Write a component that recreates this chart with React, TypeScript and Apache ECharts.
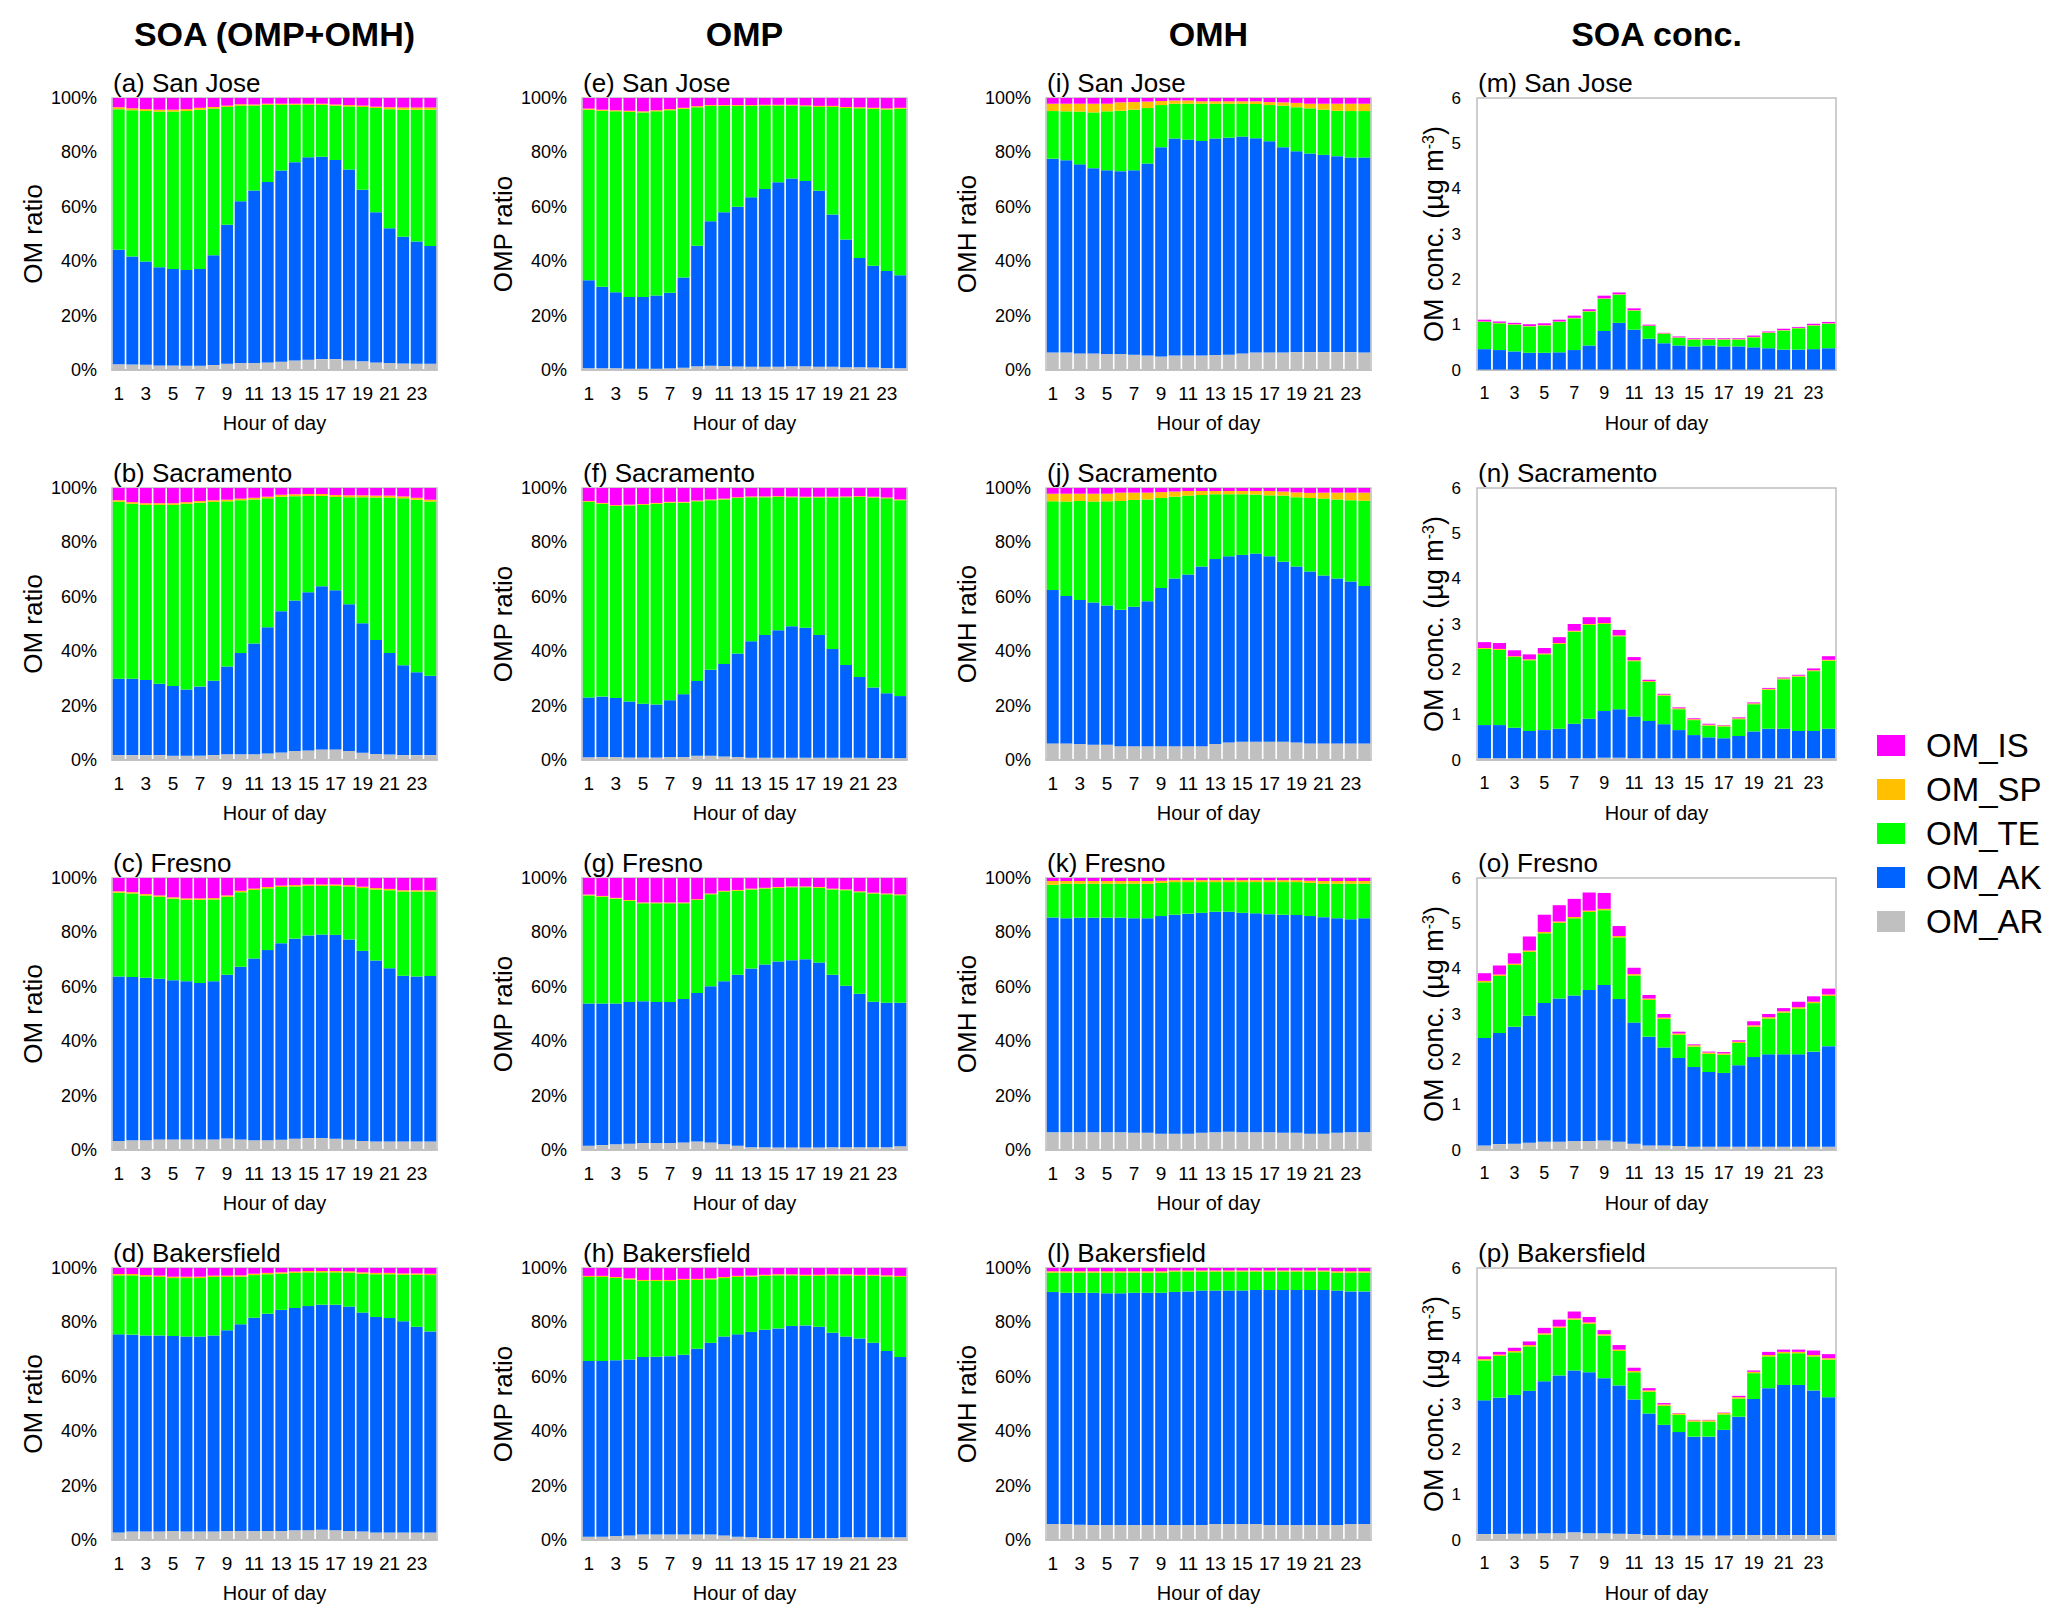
import React, { useEffect, useRef } from 'react';
import * as echarts from 'echarts';

// ---------- categories / labels ----------
const HOURS = ['1','2','3','4','5','6','7','8','9','10','11','12','13','14','15','16','17','18','19','20','21','22','23','24'];
const STACK_ORDER = ['OM_AR', 'OM_AK', 'OM_TE', 'OM_SP', 'OM_IS']; // bottom -> top
const LEGEND_ORDER = ['OM_IS', 'OM_SP', 'OM_TE', 'OM_AK', 'OM_AR'];
const COLUMN_TITLES = ['SOA (OMP+OMH)', 'OMP', 'OMH', 'SOA conc.'];
const Y_NAMES = ['OM ratio', 'OMP ratio', 'OMH ratio', 'OM conc. (µg m{sup|-3})'];
const SITES = ['San Jose', 'Sacramento', 'Fresno', 'Bakersfield'];
const LETTERS = [['a', 'e', 'i', 'm'], ['b', 'f', 'j', 'n'], ['c', 'g', 'k', 'o'], ['d', 'h', 'l', 'p']];
const RATIO_TICK_STEP = 20;
const CONC_TICK_STEP = 1;
const CONC_MAX = 6;

// ---------- (a) San Jose, SOA ratio (%) ----------
const A_AR = [2.1,2.0,1.9,1.7,1.7,1.6,1.6,1.8,2.3,2.6,2.6,2.8,3.0,3.5,3.8,4.0,4.0,3.5,3.2,2.8,2.6,2.4,2.3,2.3];
const A_AK = [42.1,39.7,38.0,36.1,35.4,35.2,35.5,40.4,51.1,59.4,63.4,66.3,70.3,72.9,74.4,74.4,73.2,70.2,63.1,55.2,49.5,46.6,44.9,43.3];
const A_TE = [51.7,53.8,55.3,57.2,57.9,58.4,58.6,53.9,43.3,35.2,31.2,28.4,24.2,21.1,19.3,19.1,20.0,23.2,30.4,38.3,43.8,46.7,48.5,50.1];
const A_SP = [0.7,0.7,0.7,0.7,0.7,0.7,0.7,0.6,0.5,0.5,0.4,0.4,0.4,0.4,0.4,0.4,0.4,0.5,0.5,0.5,0.7,0.8,0.8,0.8];
const A_IS = [3.4,3.8,4.1,4.3,4.3,4.1,3.6,3.3,2.8,2.3,2.4,2.1,2.1,2.1,2.1,2.1,2.4,2.6,2.8,3.2,3.4,3.5,3.5,3.5];
// ---------- (e) San Jose, OMP ratio ----------
const E_AR = [0.6,0.6,0.6,0.5,0.5,0.5,0.6,0.8,1.4,1.6,1.5,1.3,1.2,1.2,1.2,1.4,1.4,1.2,1.2,1.0,1.0,0.9,0.7,0.6];
const E_AK = [32.4,30.0,28.0,26.3,26.3,26.9,27.8,33.2,44.3,53.1,56.5,58.7,62.3,65.3,67.8,69.0,68.1,64.7,56.0,47.0,40.2,37.4,35.7,34.2];
const E_TE = [62.7,64.7,66.5,68.1,67.9,67.7,67.1,62.0,50.9,42.4,39.1,37.1,33.6,30.7,28.2,26.8,27.5,30.8,39.5,48.3,55.0,57.7,59.4,61.2];
const E_SP = [0.4,0.4,0.4,0.4,0.4,0.4,0.4,0.4,0.4,0.3,0.3,0.3,0.3,0.3,0.3,0.3,0.3,0.4,0.4,0.4,0.4,0.4,0.4,0.4];
const E_IS = [3.9,4.3,4.5,4.7,4.9,4.5,4.1,3.6,3.0,2.6,2.6,2.6,2.6,2.5,2.5,2.5,2.7,2.9,2.9,3.3,3.4,3.6,3.8,3.6];
// ---------- (i) San Jose, OMH ratio ----------
const I_AR = [6.4,6.4,6.1,6.1,5.9,5.9,5.6,5.3,5.0,5.3,5.3,5.3,5.5,5.6,6.1,6.4,6.4,6.4,6.6,6.6,6.6,6.6,6.6,6.4];
const I_AK = [71.3,70.7,69.5,68.1,67.5,67.2,67.8,70.6,76.9,79.8,79.4,78.9,79.6,79.8,79.7,78.8,77.7,75.5,73.8,73.0,72.5,72.0,71.5,71.7];
const I_TE = [17.5,18.0,19.4,20.5,21.7,22.2,22.3,20.4,15.5,12.8,13.2,13.7,12.8,12.5,12.1,12.6,13.3,15.3,16.2,16.6,16.6,16.7,17.1,17.1];
const I_SP = [2.7,2.8,2.9,3.2,2.8,3.1,2.8,2.4,1.5,1.2,1.2,0.9,0.9,0.9,0.9,1.0,1.1,1.2,1.6,1.7,2.2,2.6,2.7,2.7];
const I_IS = [2.1,2.1,2.1,2.1,2.1,1.6,1.5,1.3,1.1,0.9,0.9,1.2,1.2,1.2,1.2,1.2,1.5,1.6,1.8,2.1,2.1,2.1,2.1,2.1];
// ---------- (m) San Jose, conc (µg m-3) ----------
const M_AR = [0.01,0.01,0.01,0.01,0.01,0.01,0.01,0.01,0.01,0.01,0.01,0.01,0.01,0.01,0.01,0.01,0.01,0.01,0.01,0.01,0.01,0.01,0.01,0.01];
const M_AK = [0.45,0.43,0.40,0.37,0.37,0.38,0.43,0.53,0.85,1.03,0.88,0.68,0.58,0.53,0.51,0.53,0.51,0.51,0.49,0.47,0.44,0.44,0.45,0.47];
const M_TE = [0.60,0.59,0.59,0.58,0.60,0.67,0.70,0.75,0.71,0.62,0.42,0.28,0.21,0.17,0.15,0.13,0.15,0.15,0.22,0.34,0.42,0.47,0.52,0.54];
const M_SP = [0.01,0.01,0.01,0.01,0.01,0.01,0.01,0.01,0.01,0.01,0.01,0.01,0.01,0.01,0.01,0.01,0.01,0.01,0.01,0.01,0.01,0.01,0.01,0.01];
const M_IS = [0.04,0.03,0.03,0.04,0.04,0.04,0.05,0.04,0.06,0.04,0.04,0.02,0.01,0.02,0.02,0.02,0.02,0.02,0.03,0.02,0.03,0.02,0.03,0.03];

// ---------- (b) Sacramento ----------
const B_AR = [1.8,1.8,1.8,1.8,1.6,1.6,1.6,1.8,2.1,2.1,2.1,2.4,2.8,3.3,3.5,3.9,3.9,3.3,2.7,2.2,2.0,1.8,1.8,1.8];
const B_AK = [28.1,28.1,27.6,26.2,25.6,24.3,25.4,27.3,32.3,37.2,40.7,46.4,51.9,55.3,58.2,60.0,58.5,54.0,47.6,41.9,37.3,33.0,30.5,29.2];
const B_TE = [65.0,64.3,64.4,65.8,66.6,68.3,67.6,65.8,60.7,56.2,53.0,47.4,42.1,38.4,35.4,33.2,34.3,39.3,46.3,52.4,57.2,61.4,63.4,64.0];
const B_SP = [0.6,0.6,0.6,0.6,0.6,0.6,0.6,0.6,0.6,0.6,0.6,0.6,0.7,0.7,0.7,0.7,0.7,0.7,0.7,0.7,0.7,0.7,0.7,0.7];
const B_IS = [4.5,5.2,5.6,5.6,5.6,5.2,4.8,4.5,4.3,3.9,3.6,3.2,2.5,2.3,2.2,2.2,2.6,2.7,2.7,2.8,2.8,3.1,3.6,4.3];
// ---------- (f) Sacramento OMP ----------
const F_AR = [1.0,1.1,1.1,0.9,0.9,0.9,1.1,1.1,1.6,1.6,1.3,1.1,0.8,0.8,0.8,0.8,0.8,0.8,0.8,0.8,0.8,0.7,0.7,0.7];
const F_AK = [22.0,22.2,21.7,20.6,19.8,19.5,20.9,23.1,27.4,31.6,34.0,38.1,42.9,45.2,46.9,48.4,47.8,45.2,40.0,34.1,29.7,26.0,23.8,22.8];
const F_TE = [71.9,70.9,70.6,72.1,73.1,73.8,72.6,70.4,66.1,62.3,60.5,57.1,52.9,50.6,49.0,47.4,47.9,50.5,55.7,61.7,66.2,69.8,71.7,72.0];
const F_SP = [0.3,0.3,0.3,0.3,0.3,0.3,0.3,0.3,0.3,0.3,0.3,0.3,0.3,0.3,0.3,0.3,0.3,0.3,0.3,0.3,0.3,0.3,0.3,0.3];
const F_IS = [4.8,5.5,6.3,6.1,5.9,5.5,5.1,5.1,4.6,4.2,3.9,3.4,3.1,3.1,3.0,3.1,3.2,3.2,3.2,3.1,3.0,3.2,3.5,4.2];
// ---------- (j) Sacramento OMH ----------
const J_AR = [6.1,6.1,5.9,5.6,5.6,5.1,5.1,5.1,5.1,5.1,5.1,5.1,5.9,6.4,6.7,6.7,6.7,6.7,6.4,6.1,6.1,6.1,6.1,6.1];
const J_AK = [56.4,54.2,52.9,52.3,51.2,50.1,51.2,53.3,58.1,61.6,63.1,66.0,68.0,68.5,68.7,69.2,68.2,66.2,64.7,63.2,61.7,60.6,59.5,57.9];
const J_TE = [32.6,34.7,36.4,37.1,38.3,40.0,39.3,37.4,33.1,30.1,29.0,26.3,23.8,22.8,22.3,21.7,22.4,24.3,25.5,27.0,28.3,29.1,29.9,31.3];
const J_SP = [2.8,2.9,2.7,2.9,2.8,3.1,2.7,2.5,2.2,1.9,1.7,1.5,1.2,1.2,1.2,1.3,1.6,1.5,1.8,1.9,2.2,2.5,2.8,3.0];
const J_IS = [2.1,2.1,2.1,2.1,2.1,1.7,1.7,1.7,1.5,1.3,1.1,1.1,1.1,1.1,1.1,1.1,1.1,1.3,1.6,1.8,1.7,1.7,1.7,1.7];
// ---------- (n) Sacramento conc ----------
const N_AR = [0.04,0.04,0.04,0.04,0.04,0.04,0.04,0.04,0.05,0.05,0.04,0.04,0.04,0.04,0.04,0.04,0.04,0.04,0.04,0.04,0.04,0.04,0.04,0.04];
const N_AK = [0.73,0.73,0.67,0.60,0.62,0.65,0.76,0.87,1.03,1.07,0.92,0.82,0.75,0.62,0.51,0.46,0.44,0.49,0.59,0.65,0.65,0.60,0.60,0.65];
const N_TE = [1.68,1.66,1.56,1.56,1.67,1.87,2.03,2.07,1.92,1.61,1.22,0.86,0.63,0.46,0.33,0.26,0.26,0.37,0.60,0.86,1.09,1.20,1.32,1.50];
const N_SP = [0.02,0.02,0.02,0.02,0.02,0.02,0.02,0.02,0.02,0.02,0.02,0.02,0.02,0.02,0.02,0.02,0.02,0.02,0.02,0.02,0.02,0.02,0.02,0.02];
const N_IS = [0.13,0.13,0.13,0.11,0.12,0.13,0.15,0.15,0.13,0.12,0.07,0.03,0.02,0.02,0.02,0.02,0.01,0.02,0.02,0.02,0.02,0.02,0.04,0.08];

// ---------- (c) Fresno ----------
const C_AR = [3.3,3.6,3.6,3.9,3.9,3.9,3.9,3.9,4.2,3.9,3.6,3.6,3.8,4.1,4.4,4.4,4.1,3.8,3.3,3.1,3.1,3.1,3.1,3.1];
const C_AK = [60.5,60.0,59.7,59.1,58.5,58.1,57.5,58.1,60.2,63.5,66.8,69.9,72.2,73.6,74.5,74.8,75.0,73.6,69.9,66.6,63.7,61.0,60.7,60.9];
const C_TE = [30.8,30.7,30.3,30.1,30.0,30.0,30.6,30.1,28.7,27.4,25.2,22.7,20.7,19.2,18.2,17.9,18.0,19.5,23.1,26.1,28.7,30.9,31.2,31.0];
const C_SP = [0.5,0.5,0.5,0.5,0.5,0.5,0.5,0.5,0.5,0.5,0.5,0.5,0.5,0.5,0.5,0.5,0.5,0.5,0.5,0.5,0.5,0.5,0.5,0.5];
const C_IS = [4.9,5.2,5.9,6.4,7.1,7.5,7.5,7.4,6.4,4.7,3.9,3.3,2.8,2.6,2.4,2.4,2.4,2.6,3.2,3.7,4.0,4.5,4.5,4.5];
// ---------- (g) Fresno OMP ----------
const G_AR = [1.6,1.8,2.1,2.3,2.6,2.6,2.6,2.8,3.1,2.8,2.1,1.6,1.0,1.0,0.9,0.9,0.9,0.9,1.0,1.0,1.0,1.0,1.0,1.4];
const G_AK = [52.3,52.1,51.8,52.1,52.1,51.8,51.8,52.7,54.6,57.4,59.9,62.8,65.7,67.2,68.4,68.9,69.2,68.0,63.4,59.4,56.4,53.5,53.1,52.7];
const G_TE = [39.7,39.2,38.5,37.2,36.0,36.3,36.3,35.2,34.2,33.8,33.0,30.9,29.1,27.9,27.1,26.8,26.5,27.5,31.4,35.1,37.4,39.8,39.9,39.6];
const G_SP = [0.3,0.3,0.3,0.3,0.3,0.3,0.3,0.3,0.3,0.3,0.3,0.3,0.3,0.3,0.3,0.3,0.3,0.3,0.3,0.3,0.3,0.3,0.3,0.3];
const G_IS = [6.1,6.6,7.3,8.1,9.0,9.0,9.0,9.0,7.8,5.7,4.7,4.4,3.9,3.6,3.3,3.1,3.1,3.3,3.9,4.2,4.9,5.4,5.7,6.0];
// ---------- (k) Fresno OMH ----------
const K_AR = [6.5,6.5,6.5,6.5,6.5,6.5,6.3,6.3,6.0,6.0,6.0,6.3,6.5,6.7,6.5,6.5,6.5,6.3,6.3,6.0,6.0,6.3,6.5,6.5];
const K_AK = [79.0,78.7,78.9,78.9,78.9,78.9,78.9,78.9,80.0,80.5,80.9,80.9,81.1,80.9,80.7,80.5,80.2,80.2,80.1,80.0,79.6,78.9,78.3,78.7];
const K_TE = [12.0,12.7,12.5,12.5,12.5,12.5,12.7,12.7,12.2,12.0,11.6,11.3,10.9,10.9,11.3,11.5,11.8,12.0,12.1,12.2,12.3,12.7,13.1,12.7];
const K_SP = [1.4,1.0,1.0,1.0,1.0,1.0,1.0,1.0,0.8,0.7,0.7,0.7,0.7,0.7,0.7,0.7,0.7,0.7,0.7,0.8,1.0,1.0,1.0,1.0];
const K_IS = [1.1,1.1,1.1,1.1,1.1,1.1,1.1,1.1,1.0,0.8,0.8,0.8,0.8,0.8,0.8,0.8,0.8,0.8,0.8,1.0,1.1,1.1,1.1,1.1];
// ---------- (o) Fresno conc ----------
const O_AR = [0.10,0.13,0.14,0.16,0.18,0.18,0.20,0.20,0.21,0.18,0.14,0.10,0.10,0.09,0.07,0.07,0.07,0.07,0.07,0.07,0.07,0.07,0.07,0.07];
const O_AK = [2.37,2.45,2.58,2.80,3.06,3.16,3.21,3.33,3.43,3.15,2.67,2.40,2.16,1.94,1.76,1.65,1.63,1.80,1.98,2.04,2.04,2.04,2.10,2.22];
const O_TE = [1.23,1.26,1.36,1.41,1.54,1.67,1.70,1.72,1.65,1.36,1.04,0.81,0.63,0.51,0.45,0.40,0.40,0.49,0.67,0.79,0.92,1.01,1.07,1.11];
const O_SP = [0.03,0.03,0.03,0.03,0.03,0.03,0.03,0.03,0.03,0.03,0.03,0.03,0.03,0.03,0.03,0.03,0.03,0.03,0.03,0.03,0.03,0.03,0.03,0.03];
const O_IS = [0.17,0.20,0.23,0.31,0.38,0.36,0.40,0.40,0.35,0.22,0.14,0.08,0.08,0.04,0.02,0.02,0.03,0.03,0.09,0.07,0.07,0.12,0.12,0.13];

// ---------- (d) Bakersfield ----------
const D_AR = [2.8,3.1,3.1,3.1,3.3,3.1,3.1,3.1,3.3,3.3,3.3,3.3,3.3,3.6,3.6,3.8,3.6,3.3,3.1,2.8,2.8,2.8,2.8,2.8];
const D_AK = [72.8,72.4,72.1,72.1,71.7,71.7,71.7,72.1,73.8,76.0,78.4,79.9,81.3,81.7,82.4,82.7,82.9,82.5,80.5,79.2,78.8,77.6,75.6,73.9];
const D_TE = [21.7,21.8,21.7,21.5,21.3,21.5,21.5,21.5,19.6,17.5,15.7,14.5,13.3,12.9,12.4,11.9,11.9,12.5,14.3,15.7,16.1,17.1,19.1,20.7];
const D_SP = [0.5,0.5,0.5,0.5,0.5,0.5,0.5,0.5,0.5,0.5,0.5,0.5,0.5,0.5,0.5,0.5,0.5,0.5,0.5,0.5,0.5,0.5,0.5,0.5];
const D_IS = [2.2,2.2,2.6,2.8,3.2,3.2,3.2,2.8,2.8,2.7,2.1,1.8,1.6,1.3,1.1,1.1,1.1,1.2,1.6,1.8,1.8,2.0,2.0,2.1];
// ---------- (h) Bakersfield OMP ----------
const H_AR = [1.2,1.2,1.5,1.7,2.0,2.0,2.0,2.0,2.0,2.0,1.7,1.2,1.0,0.7,0.7,0.7,0.7,0.7,0.7,1.0,1.0,1.0,1.0,1.0];
const H_AK = [64.6,64.6,64.6,64.7,65.3,65.4,65.6,66.1,68.3,70.5,73.1,74.4,75.5,76.6,77.1,78.0,78.2,77.7,75.5,73.8,73.1,71.5,68.5,66.3];
const H_TE = [30.9,30.9,30.2,29.4,27.9,27.8,27.6,27.5,25.3,23.3,21.5,21.1,20.3,19.8,19.5,18.6,18.2,18.7,21.1,22.5,23.0,24.6,27.4,29.4];
const H_SP = [0.4,0.4,0.4,0.4,0.4,0.4,0.4,0.4,0.4,0.4,0.4,0.4,0.4,0.4,0.4,0.4,0.4,0.4,0.4,0.4,0.4,0.4,0.4,0.4];
const H_IS = [2.9,2.9,3.3,3.8,4.4,4.4,4.4,4.0,4.0,3.8,3.3,2.9,2.8,2.5,2.3,2.3,2.5,2.5,2.3,2.3,2.5,2.5,2.7,2.9];
// ---------- (l) Bakersfield OMH ----------
const L_AR = [5.9,5.9,5.6,5.5,5.5,5.5,5.5,5.5,5.5,5.5,5.5,5.5,5.9,5.9,5.9,5.9,5.5,5.5,5.5,5.5,5.5,5.5,5.9,5.9];
const L_AK = [85.3,85.0,85.3,85.4,85.2,85.2,85.4,85.4,85.4,85.7,85.9,86.2,85.8,85.8,85.8,86.0,86.4,86.4,86.4,86.4,86.4,86.2,85.5,85.5];
const L_TE = [7.1,7.4,7.4,7.4,7.6,7.6,7.4,7.4,7.4,7.5,7.3,7.0,7.0,7.0,7.0,6.8,6.8,6.8,6.8,6.8,6.8,6.6,6.9,6.9];
const L_SP = [0.5,0.5,0.5,0.5,0.5,0.5,0.5,0.5,0.5,0.4,0.4,0.4,0.4,0.4,0.4,0.4,0.4,0.4,0.4,0.4,0.4,0.5,0.5,0.5];
const L_IS = [1.2,1.2,1.2,1.2,1.2,1.2,1.2,1.2,1.2,0.9,0.9,0.9,0.9,0.9,0.9,0.9,0.9,0.9,0.9,0.9,0.9,1.2,1.2,1.2];
// ---------- (p) Bakersfield conc ----------
const P_AR = [0.13,0.13,0.14,0.14,0.15,0.15,0.17,0.15,0.15,0.14,0.13,0.11,0.11,0.10,0.10,0.10,0.10,0.11,0.11,0.11,0.11,0.11,0.11,0.11];
const P_AK = [2.95,3.01,3.06,3.15,3.35,3.48,3.57,3.55,3.42,3.27,2.97,2.68,2.43,2.28,2.18,2.18,2.33,2.61,3.00,3.24,3.31,3.31,3.19,3.04];
const P_TE = [0.88,0.92,0.94,0.98,1.03,1.05,1.12,1.07,0.94,0.76,0.60,0.48,0.42,0.38,0.33,0.33,0.34,0.40,0.57,0.70,0.70,0.70,0.75,0.83];
const P_SP = [0.03,0.03,0.03,0.03,0.03,0.03,0.03,0.03,0.03,0.03,0.03,0.03,0.03,0.03,0.03,0.03,0.03,0.03,0.03,0.03,0.03,0.03,0.03,0.03];
const P_IS = [0.06,0.06,0.07,0.08,0.12,0.15,0.15,0.12,0.09,0.10,0.07,0.05,0.03,0.01,0.01,0.01,0.01,0.03,0.03,0.07,0.05,0.05,0.10,0.09];

// panel data grid [row][col] -> series arrays in STACK_ORDER
const PANEL_DATA = [
  [[A_AR, A_AK, A_TE, A_SP, A_IS], [E_AR, E_AK, E_TE, E_SP, E_IS], [I_AR, I_AK, I_TE, I_SP, I_IS], [M_AR, M_AK, M_TE, M_SP, M_IS]],
  [[B_AR, B_AK, B_TE, B_SP, B_IS], [F_AR, F_AK, F_TE, F_SP, F_IS], [J_AR, J_AK, J_TE, J_SP, J_IS], [N_AR, N_AK, N_TE, N_SP, N_IS]],
  [[C_AR, C_AK, C_TE, C_SP, C_IS], [G_AR, G_AK, G_TE, G_SP, G_IS], [K_AR, K_AK, K_TE, K_SP, K_IS], [O_AR, O_AK, O_TE, O_SP, O_IS]],
  [[D_AR, D_AK, D_TE, D_SP, D_IS], [H_AR, H_AK, H_TE, H_SP, H_IS], [L_AR, L_AK, L_TE, L_SP, L_IS], [P_AR, P_AK, P_TE, P_SP, P_IS]],
];

// ---------- styling / layout ----------
const COLORS: Record<string, string> = {
  OM_IS: '#FF00FF',
  OM_SP: '#FFC000',
  OM_TE: '#00FF00',
  OM_AK: '#0063FF',
  OM_AR: '#C0C0C0',
};
const FONT = "'Liberation Sans', Arial, Helvetica, sans-serif";
const ROW_TOPS = [98, 488, 878, 1268];
const COL_LEFTS = [112, 582, 1046, 1477];
const COL_WIDTHS = [325, 325, 325, 359];
const PLOT_H = 272;

function buildOption() {
  const grid: any[] = [];
  const xAxis: any[] = [];
  const yAxis: any[] = [];
  const series: any[] = [];
  const graphic: any[] = [];

  COLUMN_TITLES.forEach((t, c) => {
    graphic.push({
      type: 'text',
      x: COL_LEFTS[c] + COL_WIDTHS[c] / 2,
      y: 34,
      silent: true,
      style: {
        text: t,
        fontSize: 34,
        fontWeight: 'bold',
        fontFamily: FONT,
        fill: '#000',
        align: 'center',
        verticalAlign: 'middle',
        textAlign: 'center',
        textVerticalAlign: 'middle',
      },
    });
  });

  let idx = 0;
  for (let r = 0; r < 4; r++) {
    for (let c = 0; c < 4; c++) {
      const isConc = c === 3;
      const left = COL_LEFTS[c];
      const top = ROW_TOPS[r];
      const width = COL_WIDTHS[c];
      grid.push({
        left, top, width, height: PLOT_H,
        show: true,
        borderColor: '#BFBFBF',
        borderWidth: 1.5,
        backgroundColor: 'transparent',
        containLabel: false,
      });
      xAxis.push({
        type: 'category',
        gridIndex: idx,
        data: HOURS,
        axisTick: { show: false },
        axisLine: { show: true, lineStyle: { color: '#BFBFBF', width: 1.5 } },
        axisLabel: { interval: 1, fontSize: isConc ? 18 : 19, color: '#000', margin: 14, fontFamily: FONT },
        splitLine: { show: false },
        name: 'Hour of day',
        nameLocation: 'middle',
        nameGap: 43,
        nameTextStyle: { fontSize: 20, color: '#000', fontFamily: FONT },
      });
      yAxis.push({
        type: 'value',
        gridIndex: idx,
        min: 0,
        max: isConc ? CONC_MAX : 100,
        interval: isConc ? CONC_TICK_STEP : RATIO_TICK_STEP,
        axisLine: { show: false },
        axisTick: { show: false },
        splitLine: { show: false },
        axisLabel: {
          formatter: isConc ? '{value}' : '{value}%',
          fontSize: isConc ? 17 : 18,
          color: '#000',
          margin: isConc ? 16 : 15,
          fontFamily: FONT,
        },
        name: Y_NAMES[c],
        nameLocation: 'middle',
        nameGap: isConc ? 30 : 66,
        nameTextStyle: {
          fontSize: isConc ? 27 : 26,
          color: '#000',
          fontFamily: FONT,
          rich: { sup: { fontSize: 16, color: '#000', fontFamily: FONT, verticalAlign: 'top' } },
        },
      });
      STACK_ORDER.forEach((name, k) => {
        series.push({
          type: 'bar',
          name,
          xAxisIndex: idx,
          yAxisIndex: idx,
          stack: 'panel' + idx,
          data: PANEL_DATA[r][c][k],
          barCategoryGap: '12%',
          itemStyle: { color: COLORS[name] },
          silent: true,
          emphasis: { disabled: true },
        });
      });
      graphic.push({
        type: 'text',
        x: left + 1,
        y: top - 2,
        silent: true,
        style: {
          text: `(${LETTERS[r][c]}) ${SITES[r]}`,
          fontSize: 26,
          fontFamily: FONT,
          fill: '#000',
          align: 'left',
          verticalAlign: 'bottom',
          textAlign: 'left',
          textVerticalAlign: 'bottom',
        },
      });
      idx++;
    }
  }

  return {
    animation: false,
    backgroundColor: '#FFFFFF',
    textStyle: { fontFamily: FONT },
    grid,
    xAxis,
    yAxis,
    series,
    graphic,
    legend: {
      data: LEGEND_ORDER,
      orient: 'vertical',
      left: 1872,
      top: 724,
      itemWidth: 28,
      itemHeight: 21,
      itemGap: 11,
      icon: 'rect',
      selectedMode: false,
      textStyle: { fontSize: 33, color: '#000', fontFamily: FONT, padding: [0, 0, 0, 16] },
    },
  };
}

export default function App() {
  const ref = useRef<HTMLDivElement>(null);
  useEffect(() => {
    if (!ref.current) return;
    const chart = echarts.init(ref.current, undefined, { renderer: 'svg' });
    chart.setOption(buildOption() as any);
    return () => chart.dispose();
  }, []);
  return (
    <div
      ref={ref}
      style={{ position: 'absolute', left: 0, top: 0, width: 2067, height: 1623, background: '#fff' }}
    />
  );
}
